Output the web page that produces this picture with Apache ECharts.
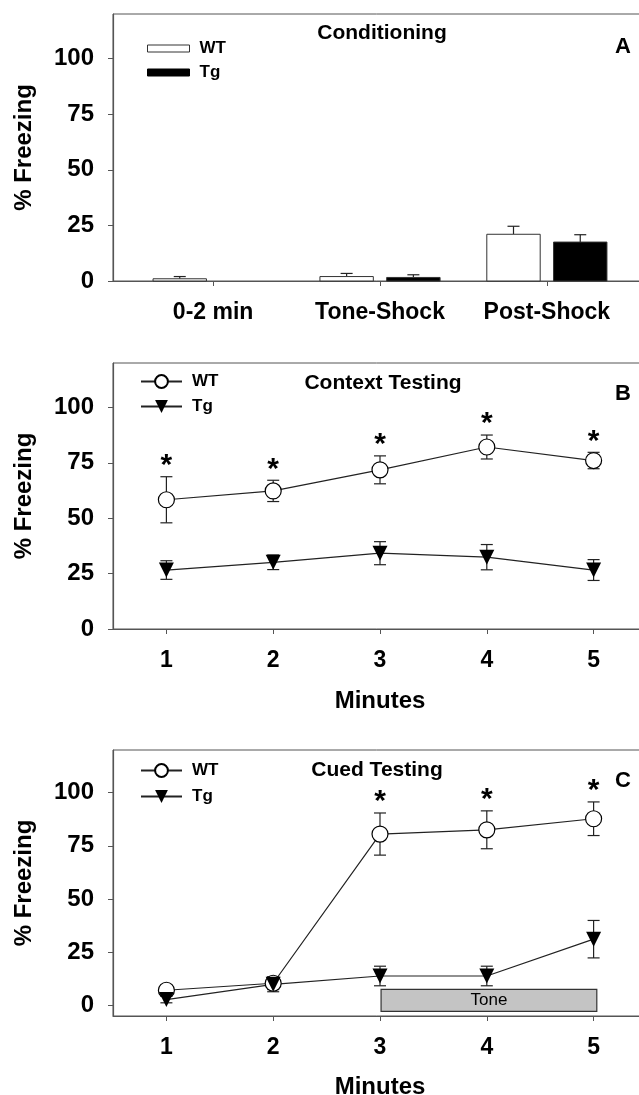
<!DOCTYPE html>
<html>
<head>
<meta charset="utf-8">
<script src="https://cdn.jsdelivr.net/npm/echarts@6/dist/echarts.min.js"></script>
<style>
html,body{margin:0;padding:0;background:#fff;overflow:hidden;}
#chart{width:639px;height:1095px;}
</style>
</head>
<body>
<div id="chart"></div>
<script>
// ---------- data ----------
const conditioningCategories = ['0-2 min', 'Tone-Shock', 'Post-Shock'];
const conditioningWT = [1.0, 2.0, 21.0];
const conditioningWTErr = [1.0, 1.4, 3.6];
const conditioningTg = [0, 1.6, 17.5];
const conditioningTgErr = [0, 1.2, 3.3];

const minutes = [1, 2, 3, 4, 5];
const yTicks = [0, 25, 50, 75, 100];

const contextWT = [58.3, 62.3, 71.8, 82.1, 76.0];
const contextWTErr = [10.4, 4.8, 6.3, 5.4, 3.7];
const contextTg = [26.6, 30.1, 34.2, 32.4, 26.6];
const contextTgErr = [4.2, 3.3, 5.2, 5.7, 4.7];
const contextSignificant = [true, true, true, true, true];

const cuedWT = [7.1, 10.4, 80.5, 82.5, 87.7];
const cuedWTErr = [1.5, 3.0, 9.9, 8.9, 7.9];
const cuedTg = [2.7, 9.9, 13.8, 13.8, 31.1];
const cuedTgErr = [1.5, 3.5, 4.6, 4.6, 8.8];
const cuedSignificant = [false, false, true, true, true];

const toneLabel = 'Tone';
const toneStart = 3.01, toneEnd = 5.03, toneLow = -2.8, toneHigh = 7.5;

// ---------- styles ----------
const FONT = 'Liberation Sans, Arial, sans-serif';
const AX = '#555';
const INK = '#222';

function grid(top, height) {
  return { left: 113, width: 534, top: top, height: height, show: true,
           outerBoundsMode: 'none', containLabel: false,
           borderColor: AX, borderWidth: 1, backgroundColor: 'transparent' };
}
function xAxis(gi, min, max, ticks, fmt, name, nameGap) {
  return {
    type: 'value', gridIndex: gi, min: min, max: max,
    axisLine: { onZero: false, lineStyle: { color: AX, width: 1.2 } },
    axisTick: { show: true, inside: false, length: 5, customValues: ticks, lineStyle: { color: AX } },
    axisLabel: { customValues: ticks, margin: 20, color: '#000', fontFamily: FONT, fontWeight: 'bold', fontSize: 23,
                 formatter: fmt },
    splitLine: { show: false },
    name: name || '', nameLocation: 'middle', nameGap: nameGap || 0,
    nameTextStyle: { color: '#000', fontFamily: FONT, fontWeight: 'bold', fontSize: 24 }
  };
}
function yAxis(gi, min) {
  return {
    type: 'value', gridIndex: gi, min: min, max: 120,
    axisLine: { show: true, onZero: false, lineStyle: { color: AX, width: 1.2 } },
    axisTick: { show: true, inside: false, length: 5, customValues: yTicks, lineStyle: { color: AX } },
    axisLabel: { customValues: yTicks, margin: 19, color: '#000', fontFamily: FONT, fontWeight: 'bold', fontSize: 24 },
    splitLine: { show: false },
    name: '% Freezing', nameLocation: 'middle', nameGap: 77, nameRotate: 90,
    nameTextStyle: { color: '#000', fontFamily: FONT, fontWeight: 'bold', fontSize: 24 }
  };
}

// error bars: [x, mean, err]
function errSeries(name, gi, xs, means, errs, both, z) {
  return {
    type: 'custom', name: name, xAxisIndex: gi, yAxisIndex: gi, z: z || 2, silent: true,
    data: xs.map((x, i) => [x, means[i], errs[i]]),
    encode: { x: 0, y: 1 },
    renderItem: function (params, api) {
      const x = api.value(0), m = api.value(1), e = api.value(2);
      if (!e) return null;
      const t = api.coord([x, m + e]);
      const b = api.coord([x, both ? m - e : m]);
      const half = 6;
      const children = [
        { type: 'line', shape: { x1: t[0], y1: t[1], x2: b[0], y2: b[1] }, style: { stroke: INK, lineWidth: 1.2 } },
        { type: 'line', shape: { x1: t[0] - half, y1: t[1], x2: t[0] + half, y2: t[1] }, style: { stroke: INK, lineWidth: 1.2 } }
      ];
      if (both) children.push({ type: 'line', shape: { x1: b[0] - half, y1: b[1], x2: b[0] + half, y2: b[1] }, style: { stroke: INK, lineWidth: 1.2 } });
      return { type: 'group', children: children };
    }
  };
}
function starSeries(gi, xs, means, errs, sig) {
  return {
    type: 'custom', xAxisIndex: gi, yAxisIndex: gi, z: 5, silent: true,
    data: xs.map((x, i) => [x, means[i] + errs[i], sig[i] ? 1 : 0]),
    encode: { x: 0, y: 1 },
    renderItem: function (params, api) {
      if (!api.value(2)) return null;
      const p = api.coord([api.value(0), api.value(1)]);
      return { type: 'text', x: p[0], y: p[1] + 4,
               style: { text: '*', align: 'center', verticalAlign: 'bottom', fill: '#000',
                        font: 'bold 30px ' + FONT } };
    }
  };
}
function lineSeries(name, gi, xs, ys, isWT) {
  return {
    type: 'line', name: name, xAxisIndex: gi, yAxisIndex: gi, z: 4, silent: true,
    data: xs.map((x, i) => [x, ys[i]]),
    symbol: isWT ? 'circle' : 'triangle', symbolRotate: isWT ? 0 : 180,
    symbolSize: isWT ? 16 : 15, showAllSymbol: true,
    lineStyle: { color: INK, width: 1.2 },
    itemStyle: { color: isWT ? '#fff' : '#000', borderColor: '#000', borderWidth: isWT ? 1.2 : 0, opacity: 1 },
    animation: false
  };
}
const BAR_W = 0.32, BAR_OFF = 0.2;
function barSeries(name, offset, vals, fill) {
  return {
    type: 'custom', name: name, xAxisIndex: 0, yAxisIndex: 0, z: 3, silent: true,
    data: vals.map((v, i) => [i + 1 + offset, v]),
    encode: { x: 0, y: 1 },
    itemStyle: { color: fill },
    renderItem: function (params, api) {
      const x = api.value(0), v = api.value(1);
      if (!v) return null;
      const a = api.coord([x - BAR_W / 2, v]);
      const b = api.coord([x + BAR_W / 2, 0]);
      return { type: 'rect', shape: { x: a[0], y: a[1], width: b[0] - a[0], height: b[1] - a[1] },
               style: { fill: fill, stroke: '#333', lineWidth: 1 } };
    }
  };
}
function legend(top, gap, items, iw, ih) {
  return {
    orient: 'vertical', left: 140, top: top, itemGap: gap, itemWidth: iw, itemHeight: ih,
    selectedMode: false, padding: 0, data: items,
    formatter: n => n.split('_')[0],
    textStyle: { color: '#000', fontFamily: FONT, fontWeight: 'bold', fontSize: 17, padding: [0, 0, 0, 5] }
  };
}
function label(text, x, y, size, weight) {
  return { type: 'text', x: x, y: y, silent: true,
           style: { text: text, align: 'center', verticalAlign: 'middle', fill: '#000',
                    font: (weight || 'bold') + ' ' + size + 'px ' + FONT } };
}

const condX = conditioningCategories.map((c, i) => i + 1);

const option = {
  animation: false,
  backgroundColor: '#fff',
  grid: [grid(14, 267), grid(363, 266), grid(750, 266)],
  xAxis: [
    xAxis(0, 0.4, 3.6, condX, v => conditioningCategories[v - 1] || ''),
    xAxis(1, 0.5, 5.5, minutes, v => v, 'Minutes', 60),
    xAxis(2, 0.5, 5.5, minutes, v => v, 'Minutes', 59)
  ],
  yAxis: [yAxis(0, 0), yAxis(1, 0), yAxis(2, -5)],
  legend: [
    Object.assign(legend(40, 7, [
      { name: 'WT_A', icon: 'rect', itemStyle: { color: '#fff', borderColor: '#333', borderWidth: 1 } },
      { name: 'Tg_A', icon: 'rect', itemStyle: { color: '#000', borderColor: '#000', borderWidth: 1 } }
    ], 42, 7), { left: 147 }),
    legend(373, 8, ['WT_B', 'Tg_B'], 41, 16),
    legend(762, 9, ['WT_C', 'Tg_C'], 41, 16)
  ],
  graphic: [
    label('Conditioning', 382, 33, 21),
    label('A', 623, 47, 22),
    label('Context Testing', 383, 383, 21),
    label('B', 623, 394, 22),
    label('Cued Testing', 377, 770, 21),
    label('C', 623, 781, 22)
  ],
  series: [
    // Panel A
    barSeries('WT_A', -BAR_OFF, conditioningWT, '#fff'),
    barSeries('Tg_A', BAR_OFF, conditioningTg, '#000'),
    errSeries('errWA', 0, condX.map(x => x - BAR_OFF), conditioningWT, conditioningWTErr, false),
    errSeries('errTA', 0, condX.map(x => x + BAR_OFF), conditioningTg, conditioningTgErr, false),
    // Panel B
    errSeries('errWB', 1, minutes, contextWT, contextWTErr, true),
    errSeries('errTB', 1, minutes, contextTg, contextTgErr, true),
    lineSeries('WT_B', 1, minutes, contextWT, true),
    lineSeries('Tg_B', 1, minutes, contextTg, false),
    starSeries(1, minutes, contextWT, contextWTErr, contextSignificant),
    // Panel C
    {
      type: 'custom', xAxisIndex: 2, yAxisIndex: 2, z: 1, silent: true,
      data: [[toneStart, toneHigh, toneEnd, toneLow]],
      encode: { x: [0, 2], y: [1, 3] },
      renderItem: function (params, api) {
        const a = api.coord([api.value(0), api.value(1)]);
        const b = api.coord([api.value(2), api.value(3)]);
        return { type: 'group', children: [
          { type: 'rect', shape: { x: a[0], y: a[1], width: b[0] - a[0], height: b[1] - a[1] },
            style: { fill: '#c4c4c4', stroke: '#333', lineWidth: 1.2 } },
          { type: 'text', x: (a[0] + b[0]) / 2, y: (a[1] + b[1]) / 2,
            style: { text: toneLabel, align: 'center', verticalAlign: 'middle', fill: '#000', font: '17px ' + FONT } }
        ] };
      }
    },
    errSeries('errWC', 2, minutes, cuedWT, cuedWTErr, true),
    errSeries('errTC', 2, minutes, cuedTg, cuedTgErr, true),
    lineSeries('WT_C', 2, minutes, cuedWT, true),
    lineSeries('Tg_C', 2, minutes, cuedTg, false),
    starSeries(2, minutes, cuedWT, cuedWTErr, cuedSignificant)
  ]
};

const chart = echarts.init(document.getElementById('chart'), null, { renderer: 'canvas' });
chart.setOption(option);
</script>
</body>
</html>
